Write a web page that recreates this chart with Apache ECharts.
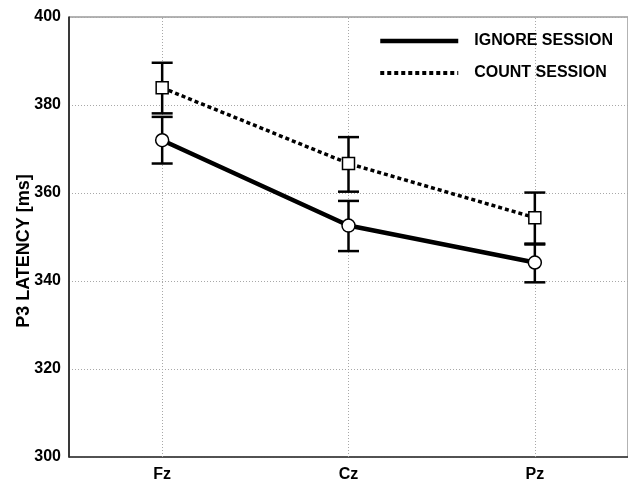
<!DOCTYPE html>
<html>
<head>
<meta charset="utf-8">
<script src="https://cdn.jsdelivr.net/npm/echarts@6/dist/echarts.min.js"></script>
<style>
html,body{margin:0;padding:0;background:#fff;}
#chart{width:628px;height:484px;}
</style>
</head>
<body>
<div id="chart"></div>
<script>
const categories = ['Fz', 'Cz', 'Pz'];
const ignoreMean = [372.0, 352.6, 344.2];
const ignoreLow  = [366.7, 346.8, 339.7];
const ignoreHigh = [377.3, 358.2, 348.3];
const countMean  = [383.9, 366.7, 354.4];
const countLow   = [378.1, 360.3, 348.5];
const countHigh  = [389.6, 372.7, 360.1];
const yTicks = [300, 320, 340, 360, 380, 400];

const FONT = 'Liberation Sans, Arial, sans-serif';

function errData(lo, hi) {
  return categories.map((c, i) => [i, lo[i], hi[i]]);
}

function renderErr(params, api) {
  const x = api.value(0);
  const lo = api.coord([x, api.value(1)]);
  const hi = api.coord([x, api.value(2)]);
  const hw = 10.5;
  const st = { stroke: '#000', lineWidth: 2.5 };
  return {
    type: 'group',
    children: [
      { type: 'line', shape: { x1: lo[0], y1: lo[1], x2: hi[0], y2: hi[1] }, style: st },
      { type: 'line', shape: { x1: lo[0] - hw, y1: lo[1], x2: lo[0] + hw, y2: lo[1] }, style: st },
      { type: 'line', shape: { x1: hi[0] - hw, y1: hi[1], x2: hi[0] + hw, y2: hi[1] }, style: st }
    ]
  };
}

const gridLine = { color: '#a8a8a8', type: [1, 2], width: 1 };

const chart = echarts.init(document.getElementById('chart'));
chart.setOption({
  animation: false,
  backgroundColor: '#fff',
  grid: {
    left: 69, top: 17, right: -2, bottom: 27,
    show: true, borderColor: '#666', borderWidth: 1, backgroundColor: 'transparent'
  },
  legend: {
    orient: 'vertical',
    left: 373, top: 28,
    itemWidth: 78, itemHeight: 16, itemGap: 16,
    itemStyle: { opacity: 0 },
    data: [
      { name: 'IGNORE SESSION', lineStyle: { width: 4.5, color: '#000', type: 'solid' } },
      { name: 'COUNT SESSION', lineStyle: { width: 4, color: '#000', type: [4, 3] } }
    ],
    textStyle: { fontFamily: FONT, fontWeight: 'bold', fontSize: 16, color: '#000', padding: [0, 0, 0, 11] }
  },
  xAxis: {
    type: 'category',
    data: categories,
    boundaryGap: true,
    axisLine: { lineStyle: { color: '#333', width: 1.5 } },
    axisTick: { show: false },
    splitLine: { show: false },
    axisLabel: { fontFamily: FONT, fontWeight: 'bold', fontSize: 16, color: '#000', margin: 10 }
  },
  yAxis: {
    type: 'value',
    min: yTicks[0], max: yTicks[yTicks.length - 1], interval: 20,
    name: 'P3 LATENCY [ms]',
    nameLocation: 'middle',
    nameGap: 36,
    nameRotate: 90,
    nameMoveOverlap: false,
    nameTextStyle: { fontFamily: FONT, fontWeight: 'bold', fontSize: 18, color: '#000', padding: [0, 28, 0, 0] },
    axisLine: { show: true, lineStyle: { color: '#111', width: 1.5 } },
    axisTick: { show: false },
    splitLine: { show: true, lineStyle: gridLine },
    axisLabel: { fontFamily: FONT, fontWeight: 'bold', fontSize: 16, color: '#000', margin: 8 }
  },
  series: [
    {
      name: 'errIgnore', type: 'custom', renderItem: renderErr,
      data: errData(ignoreLow, ignoreHigh), z: 3, silent: true,
      encode: { x: 0, y: [1, 2] }
    },
    {
      name: 'errCount', type: 'custom', renderItem: renderErr,
      data: errData(countLow, countHigh), z: 3, silent: true,
      encode: { x: 0, y: [1, 2] }
    },
    {
      name: 'IGNORE SESSION', type: 'line', data: ignoreMean, z: 5,
      symbol: 'circle', symbolSize: 13,
      lineStyle: { color: '#000', width: 4.5, type: 'solid' },
      itemStyle: { color: '#fff', borderColor: '#000', borderWidth: 1.5 },
      markLine: {
        silent: true, symbol: 'none', label: { show: false },
        lineStyle: gridLine,
        data: categories.map(c => ({ xAxis: c })),
        z: 1
      }
    },
    {
      name: 'COUNT SESSION', type: 'line', data: countMean, z: 5,
      symbol: 'rect', symbolSize: 12,
      lineStyle: { color: '#000', width: 3.5, type: [4, 3] },
      itemStyle: { color: '#fff', borderColor: '#000', borderWidth: 1.5 }
    }
  ]
});
</script>
</body>
</html>
